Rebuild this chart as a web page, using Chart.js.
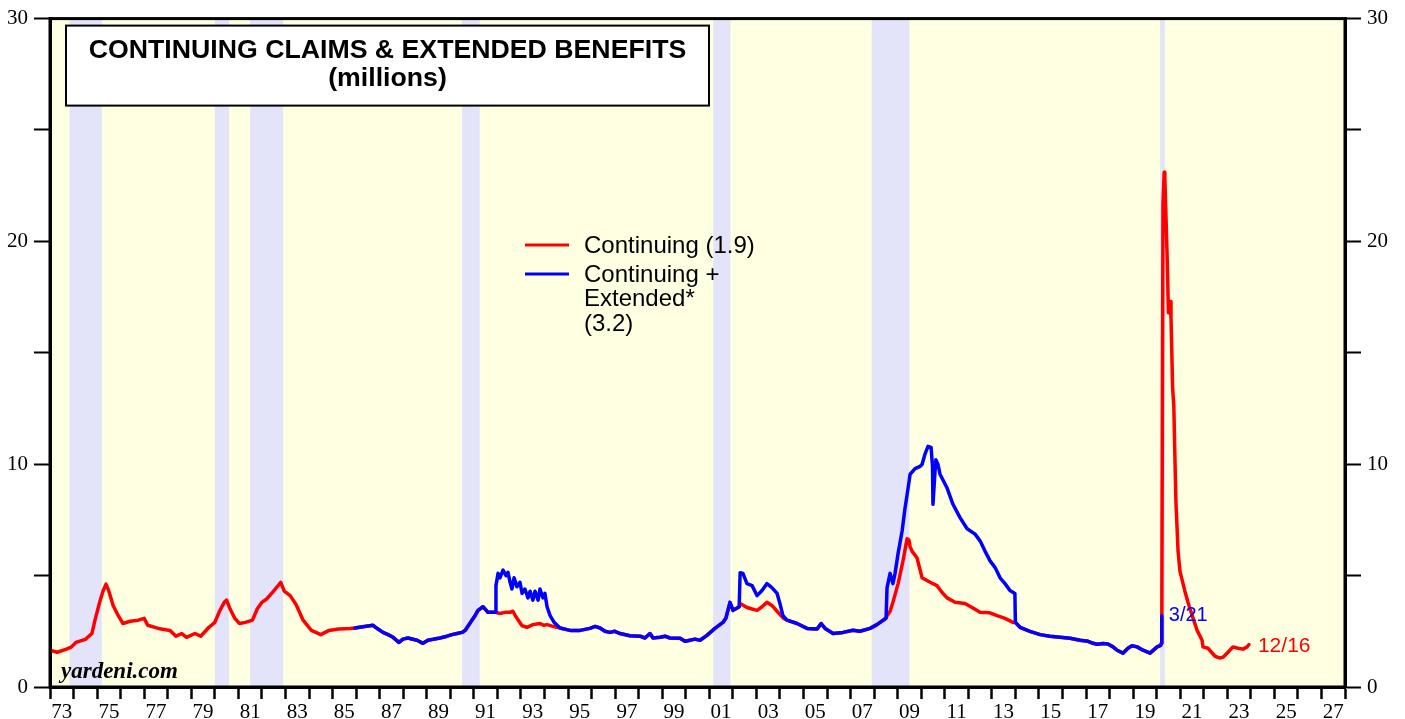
<!DOCTYPE html>
<html lang="en">
<head>
<meta charset="utf-8">
<title>Continuing Claims & Extended Benefits</title>
<script src="https://cdn.jsdelivr.net/npm/chart.js@4.4.1/dist/chart.umd.min.js"></script>
<style>
body {
  margin: 0;
  background: #fff;
}
#claims-chart {
  display: block;
}
</style>
</head>
<body>
<canvas id="claims-chart" width="1405" height="719"></canvas>

<script>
/* Continuing claims (millions) */
const redYears = [
  1973.00, 1973.30, 1973.70, 1973.90, 1974.10, 1974.50, 1974.78, 1974.91, 1975.12, 1975.25,
  1975.38, 1975.50, 1975.68, 1975.90, 1976.10, 1976.40, 1976.75, 1977.00, 1977.15, 1977.60,
  1978.10, 1978.35, 1978.60, 1978.80, 1979.15, 1979.40, 1979.75, 1980.00, 1980.20, 1980.40,
  1980.50, 1980.65, 1980.85, 1981.05, 1981.30, 1981.60, 1981.80, 1982.00, 1982.20, 1982.45,
  1982.65, 1982.80, 1982.95, 1983.20, 1983.45, 1983.75, 1984.10, 1984.50, 1984.85, 1985.25,
  1985.75, 1985.95,
  1986.29, 1986.72, 1986.93, 1987.14, 1987.36, 1987.57, 1987.82, 1987.99, 1988.20, 1988.59,
  1988.84, 1989.05, 1989.27, 1989.56, 1989.86, 1990.07, 1990.29, 1990.50, 1990.63, 1990.80,
  1990.92, 1991.05, 1991.18, 1991.39, 1991.52, 1991.60, 1991.82, 1991.92,
  1992.11, 1992.32, 1992.54, 1992.66, 1992.79, 1992.92, 1993.05, 1993.26, 1993.51, 1993.81,
  1993.98, 1994.11, 1994.36, 1994.66,
  1995.09, 1995.51, 1995.93, 1996.15, 1996.36, 1996.57, 1996.78, 1996.99, 1997.21, 1997.63,
  1998.06, 1998.27, 1998.48, 1998.61, 1998.91, 1999.12, 1999.33, 1999.76, 1999.97, 2000.18,
  2000.39, 2000.61, 2000.90, 2001.24, 2001.58, 2001.71, 2001.88, 2002.01, 2002.22, 2002.27,
  2002.31, 2002.60, 2002.82, 2003.03, 2003.24, 2003.45, 2003.66, 2003.88, 2004.13, 2004.30,
  2004.73, 2005.15, 2005.58, 2005.75, 2005.92, 2006.26, 2006.68, 2007.10, 2007.40, 2007.83,
  2008.12, 2008.46, 2008.51,
  2008.55, 2008.68, 2008.80, 2009.02, 2009.23, 2009.40, 2009.48, 2009.53, 2009.61, 2009.82,
  2010.04, 2010.38, 2010.67, 2010.89, 2011.10, 2011.44, 2011.86, 2012.16, 2012.50, 2012.92,
  2013.22, 2013.56, 2013.90, 2014.00,
  2014.20, 2014.62, 2015.05, 2015.47, 2015.90, 2016.32, 2016.75, 2017.09, 2017.30, 2017.47,
  2017.72, 2017.93, 2018.15, 2018.32, 2018.57, 2018.78, 2018.95, 2019.17, 2019.42, 2019.72,
  2020.02, 2020.17, 2020.20, 2020.22,
  2020.27, 2020.32, 2020.35, 2020.45, 2020.50, 2020.57, 2020.61, 2020.68, 2020.73, 2020.77,
  2020.82, 2020.91, 2020.99, 2021.20, 2021.33, 2021.55, 2021.72, 2021.93, 2021.97, 2022.18,
  2022.48, 2022.69, 2022.82, 2023.03, 2023.24, 2023.46, 2023.67, 2023.84, 2023.92
];
const redValues = [
  1.65, 1.56, 1.70, 1.79, 2.00, 2.14, 2.40, 3.00, 3.85, 4.30,
  4.62, 4.30, 3.66, 3.20, 2.85, 2.95, 3.00, 3.08, 2.77, 2.63,
  2.54, 2.28, 2.40, 2.23, 2.40, 2.28, 2.68, 2.90, 3.40, 3.80,
  3.90, 3.50, 3.08, 2.85, 2.90, 3.00, 3.50, 3.80, 3.95, 4.25,
  4.50, 4.70, 4.30, 4.10, 3.70, 3.00, 2.54, 2.35, 2.54, 2.60,
  2.63, 2.65,
  2.70, 2.77, 2.60, 2.45, 2.35, 2.23, 2.00, 2.15, 2.20, 2.10,
  1.96, 2.10, 2.14, 2.20, 2.28, 2.35, 2.40, 2.45, 2.54, 2.80,
  3.00, 3.20, 3.44, 3.60, 3.45, 3.35, 3.35, 3.35,
  3.30, 3.35, 3.35, 3.40, 3.15, 2.95, 2.75, 2.68, 2.80, 2.85,
  2.77, 2.80, 2.72, 2.65,
  2.54, 2.54, 2.63, 2.72, 2.65, 2.50, 2.45, 2.50, 2.40, 2.30,
  2.28, 2.20, 2.40, 2.20, 2.23, 2.28, 2.20, 2.19, 2.05, 2.10,
  2.15, 2.10, 2.32, 2.63, 2.90, 3.10, 3.80, 3.44, 3.57, 3.60,
  3.75, 3.57, 3.50, 3.44, 3.60, 3.80, 3.66, 3.40, 3.10, 3.00,
  2.85, 2.63, 2.60, 2.85, 2.63, 2.40, 2.45, 2.55, 2.50, 2.63,
  2.80, 3.05, 3.10,
  3.20, 3.40, 3.80, 4.64, 5.67, 6.65, 6.60, 6.30, 6.10, 5.80,
  4.90, 4.70, 4.55, 4.24, 4.00, 3.80, 3.75, 3.57, 3.35, 3.33,
  3.20, 3.08, 2.90, 2.90,
  2.68, 2.50, 2.35, 2.28, 2.23, 2.19, 2.10, 2.05, 1.96, 1.92,
  1.95, 1.93, 1.80, 1.65, 1.52, 1.74, 1.85, 1.80, 1.65, 1.52,
  1.80, 1.87, 1.96, 3.20,
  21.70, 23.10, 22.80, 19.20, 16.80, 17.30, 16.60, 13.40, 12.60, 10.60,
  8.30, 6.10, 5.20, 4.30, 3.80, 3.08, 2.54, 2.10, 1.80, 1.74,
  1.38, 1.30, 1.34, 1.56, 1.80, 1.74, 1.70, 1.80, 1.90
];

/* Continuing + extended benefits (millions) */
const blueYears = [
  1985.95, 1986.29, 1986.72, 1986.93, 1987.14, 1987.36, 1987.57, 1987.82, 1987.99, 1988.20,
  1988.59, 1988.84, 1989.05, 1989.27, 1989.56, 1989.86, 1990.07, 1990.29, 1990.50, 1990.63,
  1990.80, 1990.92, 1991.05, 1991.18, 1991.39, 1991.52, 1991.60, 1991.82, 1991.92,
  1991.94, 1992.03, 1992.11, 1992.24, 1992.37, 1992.45, 1992.54, 1992.62, 1992.71, 1992.83,
  1992.96, 1993.05, 1993.17, 1993.30, 1993.39, 1993.51, 1993.60, 1993.73, 1993.81, 1993.94,
  1994.02, 1994.11, 1994.24, 1994.41, 1994.66,
  1995.09, 1995.51, 1995.93, 1996.15, 1996.36, 1996.57, 1996.78, 1996.99, 1997.21, 1997.63,
  1998.06, 1998.27, 1998.48, 1998.61, 1998.91, 1999.12, 1999.33, 1999.76, 1999.97, 2000.18,
  2000.39, 2000.61, 2000.90, 2001.24, 2001.58, 2001.71, 2001.88, 2002.01, 2002.22, 2002.27,
  2002.31, 2002.43, 2002.60, 2002.82, 2003.03, 2003.24, 2003.45, 2003.66, 2003.88, 2004.00,
  2004.13, 2004.30,
  2004.73, 2005.15, 2005.58, 2005.75, 2005.92, 2006.26, 2006.68, 2007.10, 2007.40, 2007.83,
  2008.12, 2008.46, 2008.51,
  2008.55, 2008.68, 2008.80, 2008.89, 2009.02, 2009.19, 2009.31, 2009.44, 2009.53, 2009.74,
  2009.95, 2010.04, 2010.16, 2010.29, 2010.42, 2010.48, 2010.50, 2010.62, 2010.71, 2010.80,
  2011.10, 2011.35, 2011.65, 2011.95, 2012.29, 2012.50, 2012.71, 2012.92, 2013.14, 2013.35,
  2013.56, 2013.77, 2013.98, 2014.00,
  2014.20, 2014.62, 2015.05, 2015.47, 2015.90, 2016.32, 2016.75, 2017.09, 2017.30, 2017.47,
  2017.72, 2017.93, 2018.15, 2018.32, 2018.57, 2018.78, 2018.95, 2019.17, 2019.42, 2019.72,
  2020.02, 2020.17, 2020.20, 2020.22
];
const blueValues = [
  2.65, 2.70, 2.77, 2.60, 2.45, 2.35, 2.23, 2.00, 2.15, 2.20,
  2.10, 1.96, 2.10, 2.14, 2.20, 2.28, 2.35, 2.40, 2.45, 2.54,
  2.80, 3.00, 3.20, 3.44, 3.60, 3.45, 3.35, 3.35, 3.35,
  4.55, 5.10, 4.90, 5.25, 5.00, 5.15, 4.70, 4.40, 4.90, 4.50,
  4.70, 4.20, 4.40, 4.00, 4.30, 3.90, 4.30, 3.90, 4.40, 4.00,
  4.20, 3.60, 3.20, 2.90, 2.65,
  2.54, 2.54, 2.63, 2.72, 2.65, 2.50, 2.45, 2.50, 2.40, 2.30,
  2.28, 2.20, 2.40, 2.20, 2.23, 2.28, 2.20, 2.19, 2.05, 2.10,
  2.15, 2.10, 2.32, 2.63, 2.90, 3.10, 3.80, 3.44, 3.57, 3.60,
  5.13, 5.10, 4.64, 4.55, 4.10, 4.33, 4.64, 4.46, 4.20, 3.75,
  3.20, 3.00,
  2.85, 2.63, 2.60, 2.85, 2.63, 2.40, 2.45, 2.55, 2.50, 2.63,
  2.80, 3.05, 3.10,
  4.46, 5.10, 4.64, 5.10, 6.00, 7.00, 8.00, 8.90, 9.55, 9.80,
  9.90, 10.00, 10.45, 10.80, 10.75, 9.90, 8.20, 10.20, 10.00, 9.55,
  8.93, 8.20, 7.60, 7.10, 6.86, 6.56, 6.10, 5.67, 5.36, 4.90,
  4.64, 4.33, 4.20, 2.90,
  2.68, 2.50, 2.35, 2.28, 2.23, 2.19, 2.10, 2.05, 1.96, 1.92,
  1.95, 1.93, 1.80, 1.65, 1.52, 1.74, 1.85, 1.80, 1.65, 1.52,
  1.80, 1.87, 1.96, 3.20
];

/* Recession bands (decimal years) */
const recessionStarts = [1973.83, 1980.00, 1981.50, 1990.50, 2001.17, 2007.90, 2020.15];
const recessionEnds   = [1975.20, 1980.60, 1982.90, 1991.25, 2001.90, 2009.50, 2020.35];

const chartTitle = ['CONTINUING CLAIMS & EXTENDED BENEFITS', '(millions)'];
const redLegend = ['Continuing (1.9)'];
const blueLegend = ['Continuing +', 'Extended*', '(3.2)'];
const redEndLabel = '12/16';
const blueEndLabel = '3/21';

const RED = '#ff0000';
const BLUE = '#0000ff';
const SANS = '"Liberation Sans", Arial, sans-serif';
const SERIF = '"Liberation Serif", "Times New Roman", serif';

function toPoints(xs, ys) {
  return xs.map(function (x, i) { return { x: x, y: ys[i] }; });
}

/* background, recession shading, title box, legend, end labels */
const decorPlugin = {
  id: 'decor',
  beforeDraw: function (chart) {
    const ctx = chart.ctx;
    const a = chart.chartArea;
    const xs = chart.scales.x;
    ctx.save();
    ctx.fillStyle = '#ffffff';
    ctx.fillRect(0, 0, chart.width, chart.height);
    ctx.fillStyle = '#ffffe2';
    ctx.fillRect(a.left, a.top, a.right - a.left, a.bottom - a.top);
    ctx.fillStyle = '#e3e3fa';
    for (let i = 0; i < recessionStarts.length; i++) {
      const x0 = xs.getPixelForValue(recessionStarts[i]);
      const x1 = xs.getPixelForValue(recessionEnds[i]);
      ctx.fillRect(x0, a.top, x1 - x0, a.bottom - a.top);
    }
    ctx.restore();
  },
  afterDatasetsDraw: function (chart) {
    const ctx = chart.ctx;
    const a = chart.chartArea;
    const xs = chart.scales.x;
    const ys = chart.scales.y;
    ctx.save();

    // title box
    const bx = a.left + 16, by = a.top + 7, bw = 643, bh = 80;
    ctx.fillStyle = '#ffffff';
    ctx.fillRect(bx, by, bw, bh);
    ctx.strokeStyle = '#000';
    ctx.lineWidth = 2;
    ctx.strokeRect(bx, by, bw, bh);
    ctx.fillStyle = '#000';
    ctx.font = 'bold 26.7px ' + SANS;
    ctx.textAlign = 'center';
    ctx.textBaseline = 'middle';
    ctx.fillText(chartTitle[0], bx + bw / 2, by + 25);
    ctx.fillText(chartTitle[1], bx + bw / 2, by + 53);

    // legend
    ctx.textAlign = 'left';
    ctx.font = '24px ' + SANS;
    ctx.lineWidth = 3;
    ctx.strokeStyle = RED;
    ctx.beginPath(); ctx.moveTo(525, 245); ctx.lineTo(569, 245); ctx.stroke();
    ctx.fillStyle = '#000';
    ctx.fillText(redLegend[0], 584, 246);
    ctx.strokeStyle = BLUE;
    ctx.beginPath(); ctx.moveTo(525, 274); ctx.lineTo(569, 274); ctx.stroke();
    blueLegend.forEach(function (t, i) { ctx.fillText(t, 584, 275 + i * 24.5); });

    // end-of-series labels
    ctx.font = '20px ' + SANS;
    const bi = blueYears.length - 1;
    ctx.fillStyle = BLUE;
    ctx.fillText(blueEndLabel, xs.getPixelForValue(blueYears[bi]) + 7, ys.getPixelForValue(blueValues[bi]));
    const ri = redYears.length - 1;
    ctx.fillStyle = RED;
    ctx.font = '21px ' + SANS;
    ctx.fillText(redEndLabel, xs.getPixelForValue(redYears[ri]) + 9, ys.getPixelForValue(redValues[ri]) + 2);

    // watermark
    ctx.fillStyle = '#000';
    ctx.font = 'italic bold 23px ' + SERIF;
    ctx.textBaseline = 'alphabetic';
    ctx.fillText('yardeni.com', a.left + 11, a.bottom - 9);

    // frame
    ctx.strokeStyle = '#000';
    ctx.lineWidth = 3;
    ctx.strokeRect(a.left, a.top, a.right - a.left, a.bottom - a.top);
    ctx.restore();
  }
};

function yAxis(pos, width) {
  return {
    type: 'linear',
    position: pos,
    min: 0,
    max: 30,
    afterFit: function (s) { s.width = width; },
    ticks: {
      stepSize: 5,
      color: '#000',
      padding: pos === 'left' ? 6 : 6,
      font: { family: SERIF, size: 21 },
      callback: function (v) { return v % 10 === 0 ? v : ''; }
    },
    grid: { drawOnChartArea: false, tickLength: 16, tickWidth: 2, tickColor: '#000' },
    border: { display: true, width: 3, color: '#000' }
  };
}

Chart.defaults.font.family = SERIF;

new Chart(document.getElementById('claims-chart'), {
  type: 'line',
  data: {
    datasets: [
      {
        label: 'Continuing',
        data: toPoints(redYears, redValues),
        borderColor: RED,
        borderWidth: 3.5,
        order: 1
      },
      {
        label: 'Continuing + Extended',
        data: toPoints(blueYears, blueValues),
        borderColor: BLUE,
        borderWidth: 3.5,
        order: 0
      }
    ]
  },
  options: {
    responsive: false,
    animation: false,
    devicePixelRatio: 1,
    layout: { padding: { top: 15, left: 0, right: 0, bottom: 0 } },
    elements: {
      point: { radius: 0 },
      line: { tension: 0, borderJoinStyle: 'round', borderCapStyle: 'round' }
    },
    plugins: { legend: { display: false }, tooltip: { enabled: false } },
    scales: {
      x: {
        type: 'linear',
        min: 1973,
        max: 2028,
        afterFit: function (s) { s.height = 32; },
        afterBuildTicks: function (s) {
          const t = [];
          for (let y = 1973; y <= 2028; y++) t.push({ value: y });
          s.ticks = t;
        },
        ticks: {
          autoSkip: false,
          maxRotation: 0,
          minRotation: 0,
          labelOffset: 11.8,
          padding: 1,
          color: '#000',
          font: { family: SERIF, size: 21 },
          callback: function (v) {
            return (v % 2 === 1 && v < 2028) ? String(v % 100).padStart(2, '0') : '';
          }
        },
        grid: { drawOnChartArea: false, tickLength: 12, tickWidth: 2.5, tickColor: '#000' },
        border: { display: true, width: 3, color: '#000' }
      },
      y: yAxis('left', 50),
      y2: yAxis('right', 60)
    }
  },
  plugins: [decorPlugin]
});
</script>
</body>
</html>
